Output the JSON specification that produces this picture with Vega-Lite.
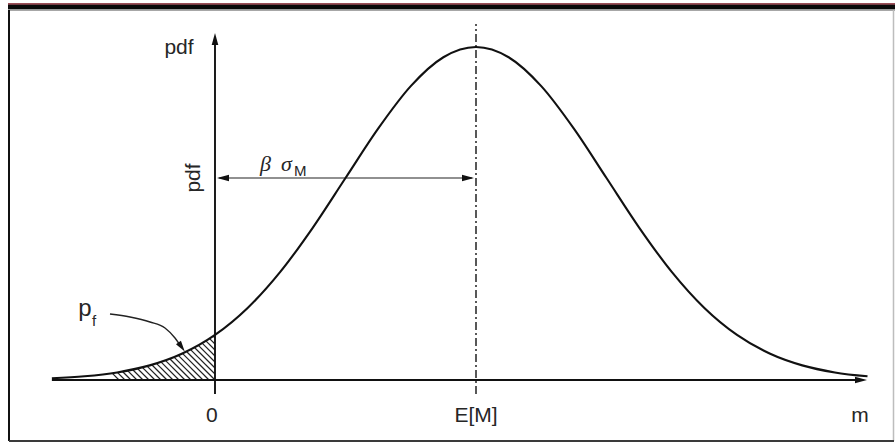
{
  "$schema": "https://vega.github.io/schema/vega-lite/v6.json",
  "width": 883,
  "height": 431,
  "padding": {"left": 9, "top": 10, "right": 3, "bottom": 3},
  "autosize": {"type": "none"},
  "background": "white",
  "config": {"view": {"stroke": null}, "text": {"font": "Liberation Sans", "color": "#262626"}},
  "datasets": {
    "density": [
      {"x": -1.25, "y": 0.00203}, {"x": -1.0, "y": 0.00443}, {"x": -0.75, "y": 0.00909},
      {"x": -0.5, "y": 0.01753}, {"x": -0.25, "y": 0.03174}, {"x": 0.0, "y": 0.05399},
      {"x": 0.25, "y": 0.08628}, {"x": 0.5, "y": 0.12952}, {"x": 0.75, "y": 0.18265},
      {"x": 1.0, "y": 0.24197}, {"x": 1.25, "y": 0.30114}, {"x": 1.5, "y": 0.35207},
      {"x": 1.75, "y": 0.38667}, {"x": 2.0, "y": 0.39894}, {"x": 2.25, "y": 0.38667},
      {"x": 2.5, "y": 0.35207}, {"x": 2.75, "y": 0.30114}, {"x": 3.0, "y": 0.24197},
      {"x": 3.25, "y": 0.18265}, {"x": 3.5, "y": 0.12952}, {"x": 3.75, "y": 0.08628},
      {"x": 4.0, "y": 0.05399}, {"x": 4.25, "y": 0.03174}, {"x": 4.5, "y": 0.01753},
      {"x": 4.75, "y": 0.00909}, {"x": 5.0, "y": 0.00443}
    ],
    "hatch": [
      {"x": 0, "y": 0.05032, "x2": -0.0141, "y2": 0.05252},
      {"x": 0, "y": 0.04313, "x2": -0.0416, "y2": 0.04963},
      {"x": 0, "y": 0.03594, "x2": -0.0698, "y2": 0.04686},
      {"x": 0, "y": 0.02875, "x2": -0.0985, "y2": 0.04415},
      {"x": 0, "y": 0.02156, "x2": -0.1276, "y2": 0.04151},
      {"x": 0, "y": 0.01438, "x2": -0.1572, "y2": 0.03895},
      {"x": 0, "y": 0.00719, "x2": -0.1874, "y2": 0.03648},
      {"x": 0, "y": 0, "x2": -0.2182, "y2": 0.03411},
      {"x": -0.046, "y": 0, "x2": -0.2494, "y2": 0.03181},
      {"x": -0.092, "y": 0, "x2": -0.2812, "y2": 0.02959},
      {"x": -0.1379, "y": 0, "x2": -0.3136, "y2": 0.02746},
      {"x": -0.1839, "y": 0, "x2": -0.3466, "y2": 0.02543},
      {"x": -0.2299, "y": 0, "x2": -0.3802, "y2": 0.02349},
      {"x": -0.2759, "y": 0, "x2": -0.4143, "y2": 0.02165},
      {"x": -0.3218, "y": 0, "x2": -0.4491, "y2": 0.0199},
      {"x": -0.3678, "y": 0, "x2": -0.4844, "y2": 0.01823},
      {"x": -0.4138, "y": 0, "x2": -0.5204, "y2": 0.01666},
      {"x": -0.4598, "y": 0, "x2": -0.5569, "y2": 0.01519},
      {"x": -0.5057, "y": 0, "x2": -0.5941, "y2": 0.01381},
      {"x": -0.5517, "y": 0, "x2": -0.6318, "y2": 0.01252},
      {"x": -0.5977, "y": 0, "x2": -0.67, "y2": 0.01131},
      {"x": -0.6437, "y": 0, "x2": -0.7088, "y2": 0.01018},
      {"x": -0.6897, "y": 0, "x2": -0.7482, "y2": 0.00915},
      {"x": -0.7356, "y": 0, "x2": -0.7882, "y2": 0.00822}
    ],
    "frameTop": [{"x": -1.5785, "y": 0.44327, "x2": 5.1877, "y2": 0.44327}],
    "frameBottom": [{"x": -1.5785, "y": -0.07308, "x2": 5.1877, "y2": -0.07308}],
    "frameLeft": [{"x": -1.5785, "y": -0.07308, "x2": -1.5785, "y2": 0.44327}],
    "frameRight": [{"x": 5.1877, "y": -0.07308, "x2": 5.1877, "y2": 0.44327}],
    "axes": [
      {"x": -1.25, "y": 0, "x2": 4.95, "y2": 0},
      {"x": 0, "y": -0.0168, "x2": 0, "y2": 0.405}
    ],
    "span": [{"x": 0.03, "y": 0.242, "x2": 1.97, "y2": 0.242}],
    "meanLine": [{"x": 2, "y": -0.0168, "x2": 2, "y2": 0.4265}],
    "pfArrow": [
      {"x": -0.8046, "y": 0.0791}, {"x": -0.6513, "y": 0.0755}, {"x": -0.4981, "y": 0.0695},
      {"x": -0.3831, "y": 0.0623}, {"x": -0.3065, "y": 0.0503}, {"x": -0.2682, "y": 0.0419}
    ],
    "headsRight": [{"x": 4.95, "y": 0}, {"x": 1.9387, "y": 0.242}],
    "headsLeft": [{"x": 0.0613, "y": 0.242}],
    "headsUp": [{"x": 0, "y": 0.4085}],
    "headPf": [{"x": -0.2559, "y": 0.0394}],
    "labels": [
      {"x": -0.2759, "y": 0.3906, "label": "pdf"},
      {"x": -0.025, "y": -0.0503, "label": "0"},
      {"x": 2.0, "y": -0.0503, "label": "E[M]"},
      {"x": 4.9425, "y": -0.0503, "label": "m"}
    ],
    "pLabel": [{"x": -0.9962, "y": 0.0761, "label": "p"}],
    "greek": [
      {"x": 0.3448, "y": 0.2504, "label": "β"},
      {"x": 0.5057, "y": 0.2504, "label": "σ"}
    ],
    "subs": [
      {"x": 0.605, "y": 0.2444, "label": "M"},
      {"x": -0.9425, "y": 0.0647, "label": "f"}
    ],
    "sideLabel": [{"x": -0.1609, "y": 0.242, "label": "pdf"}]
  },
  "encoding": {
    "x": {"field": "x", "type": "quantitative", "scale": {"domain": [-1.5785, 5.1877]}, "axis": null},
    "y": {"field": "y", "type": "quantitative", "scale": {"domain": [-0.07308, 0.44327]}, "axis": null}
  },
  "layer": [
    {
      "data": {"name": "frameTop"},
      "mark": {"type": "rule", "color": "#7a1520", "strokeWidth": 1.5, "yOffset": -6, "xOffset": -1, "x2Offset": 3, "y2Offset": -6},
      "encoding": {"x2": {"field": "x2"}, "y2": {"field": "y2"}}
    },
    {
      "data": {"name": "frameTop"},
      "mark": {"type": "rule", "color": "#0a0a0a", "strokeWidth": 4.5, "yOffset": -3, "xOffset": -1, "x2Offset": 3, "y2Offset": -3},
      "encoding": {"x2": {"field": "x2"}, "y2": {"field": "y2"}}
    },
    {
      "data": {"name": "frameTop"},
      "mark": {"type": "rule", "color": "#8a8a8a", "strokeWidth": 1.5, "xOffset": -1, "x2Offset": 3},
      "encoding": {"x2": {"field": "x2"}, "y2": {"field": "y2"}}
    },
    {
      "data": {"name": "frameLeft"},
      "mark": {"type": "rule", "color": "#111111", "strokeWidth": 2},
      "encoding": {"x2": {"field": "x2"}, "y2": {"field": "y2"}}
    },
    {
      "data": {"name": "frameRight"},
      "mark": {"type": "rule", "color": "#bdbdbd", "strokeWidth": 1.5, "xOffset": 1.5, "x2Offset": 1.5},
      "encoding": {"x2": {"field": "x2"}, "y2": {"field": "y2"}}
    },
    {
      "data": {"name": "frameBottom"},
      "mark": {"type": "rule", "color": "#3a3a3a", "strokeWidth": 2, "x2Offset": 2},
      "encoding": {"x2": {"field": "x2"}, "y2": {"field": "y2"}}
    },
    {
      "data": {"name": "hatch"},
      "mark": {"type": "rule", "color": "#222222", "strokeWidth": 1.2},
      "encoding": {"x2": {"field": "x2"}, "y2": {"field": "y2"}}
    },
    {
      "data": {"name": "axes"},
      "mark": {"type": "rule", "color": "#111111", "strokeWidth": 1.9},
      "encoding": {"x2": {"field": "x2"}, "y2": {"field": "y2"}}
    },
    {
      "data": {"name": "span"},
      "mark": {"type": "rule", "color": "#222222", "strokeWidth": 1.2},
      "encoding": {"x2": {"field": "x2"}, "y2": {"field": "y2"}}
    },
    {
      "data": {"name": "meanLine"},
      "mark": {"type": "rule", "color": "#222222", "strokeWidth": 1.5, "strokeDash": [8, 3, 2, 3]},
      "encoding": {"x2": {"field": "x2"}, "y2": {"field": "y2"}}
    },
    {
      "data": {"name": "density"},
      "mark": {"type": "line", "color": "#111111", "strokeWidth": 2.1, "interpolate": "monotone"},
      "encoding": {}
    },
    {
      "data": {"name": "pfArrow"},
      "mark": {"type": "line", "color": "#222222", "strokeWidth": 1.4, "interpolate": "monotone"},
      "encoding": {}
    },
    {
      "data": {"name": "headsRight"},
      "mark": {"type": "point", "shape": "M0,-1L-0.55,1L0.55,1Z", "filled": true, "opacity": 1, "color": "#111111", "size": 144, "angle": 90},
      "encoding": {}
    },
    {
      "data": {"name": "headsLeft"},
      "mark": {"type": "point", "shape": "M0,-1L-0.55,1L0.55,1Z", "filled": true, "opacity": 1, "color": "#111111", "size": 144, "angle": 270},
      "encoding": {}
    },
    {
      "data": {"name": "headsUp"},
      "mark": {"type": "point", "shape": "M0,-1L-0.55,1L0.55,1Z", "filled": true, "opacity": 1, "color": "#111111", "size": 144, "angle": 0},
      "encoding": {}
    },
    {
      "data": {"name": "headPf"},
      "mark": {"type": "point", "shape": "M0,-1L-0.55,1L0.55,1Z", "filled": true, "opacity": 1, "color": "#111111", "size": 121, "angle": 145},
      "encoding": {}
    },
    {
      "data": {"name": "labels"},
      "mark": {"type": "text", "fontSize": 21, "align": "center", "baseline": "alphabetic"},
      "encoding": {"text": {"field": "label"}}
    },
    {
      "data": {"name": "pLabel"},
      "mark": {"type": "text", "fontSize": 24, "align": "center", "baseline": "alphabetic"},
      "encoding": {"text": {"field": "label"}}
    },
    {
      "data": {"name": "greek"},
      "mark": {"type": "text", "font": "Liberation Serif", "fontStyle": "italic", "fontSize": 22, "align": "left", "baseline": "alphabetic"},
      "encoding": {"text": {"field": "label"}}
    },
    {
      "data": {"name": "subs"},
      "mark": {"type": "text", "fontSize": 15, "align": "left", "baseline": "alphabetic"},
      "encoding": {"text": {"field": "label"}}
    },
    {
      "data": {"name": "sideLabel"},
      "mark": {"type": "text", "fontSize": 21, "angle": 270, "align": "center", "baseline": "middle"},
      "encoding": {"text": {"field": "label"}}
    }
  ]
}
